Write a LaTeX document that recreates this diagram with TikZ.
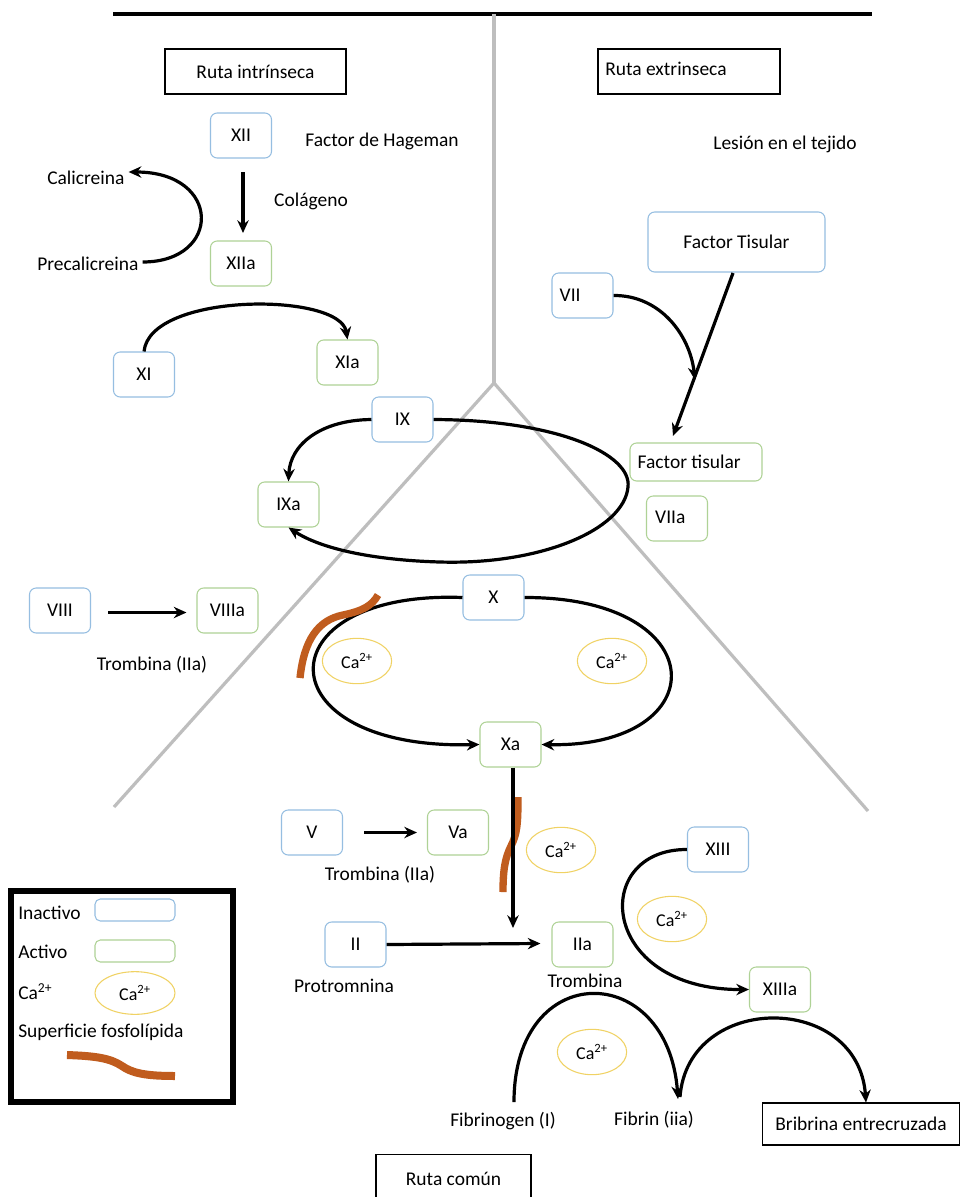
\documentclass[tikz,border=0pt]{standalone}
\usepackage{fontspec}
\setmainfont{Carlito}
\usetikzlibrary{arrows.meta,shapes.geometric,calc}
\definecolor{inblue}{RGB}{150,190,225}
\definecolor{acgreen}{RGB}{175,210,150}
\definecolor{cayellow}{RGB}{240,210,100}
\definecolor{brownc}{RGB}{192,92,30}
\definecolor{divgray}{RGB}{190,190,190}
\begin{document}
\begin{tikzpicture}[x=0.75pt,y=-0.75pt,
  every node/.style={font=\fontsize{14.6pt}{17pt}\selectfont},
  box/.style={draw, rounded corners=5pt, minimum width=45.75pt, minimum height=33.75pt, line width=0.8pt, inner sep=2pt},
  inact/.style={box, draw=inblue},
  act/.style={box, draw=acgreen},
  caell/.style={ellipse, draw=cayellow, line width=0.8pt, minimum width=52pt, minimum height=34pt, inner sep=0pt, font=\fontsize{13.5pt}{15pt}\selectfont},
  arr/.style={line width=2.4pt, -{Stealth[length=9.5pt,width=8.5pt]}},
  phos/.style={draw=brownc, line width=5.5pt},
  titlebox/.style={draw, line width=0.8pt, minimum height=33.75pt, inner sep=4pt},
  txt/.style={inner sep=0pt},
  divline/.style={draw=divgray, line width=2.4pt}
]
\clip (0,0) rectangle (960,1197);
\fill[white] (0,0) rectangle (960,1197);

% dividers
\draw[line width=3pt] (113,14) -- (872,14);
\coordinate (apex) at (494,383);
\coordinate (top) at (494,14);
\coordinate (lend) at (114,807);
\coordinate (rend) at (868,811);
\draw[divline] (top) -- (apex);
\draw[divline] (lend) -- (apex) -- (rend);

% title boxes
\node[titlebox, minimum width=135.75pt] (ri) at (255.5,71.5) {Ruta intrínseca};
\node[titlebox, minimum width=136.5pt] (re) at (689,71.5) {};
\node[txt, anchor=west] (ret) at (605,69) {Ruta extrinseca};

% intrinsic
\node[inact] (XII) at (241,135.5) {XII};
\node[txt] (hag) at (382,141) {Factor de Hageman};
\node[act] (XIIa) at (241,263.5) {XIIa};
\node[txt] (col) at (311,201) {Colágeno};
\node[txt, anchor=west] (cal) at (47,178) {Calicreina};
\node[txt, anchor=west] (pre) at (37,264) {Precalicreina};
\coordinate (xiiarrA) at (243,172);
\coordinate (xiiarrB) at (243,233);
\draw[arr] (xiiarrA) -- (xiiarrB);
\draw[arr] ($(pre.east)+(4,-2)$) .. controls (222,262) and (222,172) .. ($(cal.east)+(4,-6)$);

\node[inact] (XI) at (144,374.5) {XI};
\node[act] (XIa) at (347.5,362.5) {XIa};
\draw[arr] (XI.north) .. controls (150,292) and (340,292) .. (XIa.north);

\node[inact] (IX) at (402.5,419.5) {IX};
\node[act] (IXa) at (288.5,504.5) {IXa};
\draw[arr] (IX.west) .. controls (320,420) and (290,445) .. (IXa.north);
\draw[arr] (IX.east) .. controls (560,420) and (632,455) .. (628,487)
  .. controls (624,530) and (540,565) .. (440,562)
  .. controls (370,560) and (320,548) .. (IXa.south);

\node[inact] (VIII) at (60,610.5) {VIII};
\node[act] (VIIIa) at (227.5,610.5) {VIIIa};
\draw[arr] ($(VIII.east)+(17,2)$) -- ($(VIIIa.west)+(-10,2)$);
\node[txt] (tr1) at (152,665) {Trombina (IIa)};

% extrinsic
\node[txt] (les) at (785,144) {Lesión en el tejido};
\node[box, draw=inblue, minimum width=132.75pt, minimum height=45pt] (FT) at (736.5,242) {Factor Tisular};
\node[inact] (VII) at (582.5,295.5) {};
\node[txt, anchor=west] (VIIt) at ($(VII.west)+(8,0)$) {VII};
\node[act, minimum width=99pt, minimum height=28.5pt] (FTa) at (696,462) {};
\node[txt, anchor=west] (FTat) at ($(FTa.west)+(8,0)$) {Factor tisular};
\node[act] (VIIa) at (677,518.5) {};
\node[txt, anchor=west] (VIIat) at ($(VIIa.west)+(9,-1)$) {VIIa};
\coordinate (ftA) at (733,273);
\coordinate (ftB) at (673,436);
\draw[arr] (ftA) -- (ftB);
\coordinate (viiB) at (695,380);
\draw[arr] (VII.east) .. controls (660,295) and (690,335) .. (viiB);

% common: X loop
\node[inact] (X) at (493.5,597.5) {X};
\node[act] (Xa) at (510.5,744.5) {Xa};
\node[caell] (ca1) at (357,661) {Ca\textsuperscript{2+}};
\node[caell] (ca2) at (612,661) {Ca\textsuperscript{2+}};
\draw[arr] (X.west) .. controls (262,590) and (262,750) .. (Xa.west);
\draw[arr] (X.east) .. controls (716,597) and (716,748) .. (Xa.east);
\draw[phos] (300,678) .. controls (304,640) and (318,620) .. (343,615) .. controls (362,611) and (372,606) .. (378,595);

% V
\node[inact] (V) at (312,832.5) {V};
\node[act] (Va) at (458,832.5) {Va};
\draw[arr] ($(V.east)+(21,0)$) -- ($(Va.west)+(-10,0)$);
\node[txt] (tr2) at (380,875) {Trombina (IIa)};

% Xa -> IIa
\node[act] (IIa) at (582.5,944.5) {IIa};
\node[inact] (II) at (355.5,944.5) {II};
\node[txt] (pro) at (344,986) {Protromnina};
\node[txt] (tr3) at (585,981) {Trombina};
\coordinate (xaB) at (513,928);
\draw[phos] (503,892) .. controls (503,870) and (505,858) .. (511,846) .. controls (517,834) and (518,825) .. (518,797);
\draw[arr] ($(Xa.south)+(2.5,0)$) -- (xaB);
\node[caell] (ca3) at (561,850) {Ca\textsuperscript{2+}};
\draw[arr] (II.east) -- ($(IIa.west)+(-11,-1)$);

% XIII
\node[inact] (XIII) at (718,849.5) {XIII};
\node[act] (XIIIa) at (780,989.5) {XIIIa};
\node[caell] (ca4) at (672,919) {Ca\textsuperscript{2+}};
\draw[arr] (XIII.west) .. controls (590,849) and (598,990) .. (XIIIa.west);

% fibrin
\node[txt] (fgen) at (503,1121) {Fibrinogen (I)};
\node[txt] (fib) at (654,1120) {Fibrin (iia)};
\node[titlebox, minimum width=148pt, minimum height=31.5pt] (bri) at (861,1124) {Bribrina entrecruzada};
\node[caell] (ca5) at (592,1052) {Ca\textsuperscript{2+}};
\coordinate (fgA) at (514,1102);
\coordinate (fbB) at (678,1099);
\coordinate (fbA) at (680,1097);
\draw[arr] (fgA) .. controls (514,958) and (668,960) .. (fbB);
\draw[arr] (fbA) .. controls (688,992) and (858,992) .. ($(bri.north)+(5,0)$);

\node[titlebox, minimum width=116.25pt, minimum height=37.5pt, anchor=north] (rc) at (453.5,1154) {};
\node[txt] (rct) at (453.5,1179) {Ruta común};

% legend
\draw[line width=3.8pt] (11,891) rectangle (233,1102);
\node[txt, anchor=west] (lin) at (18,913) {Inactivo};
\node[draw=inblue, rounded corners=4pt, line width=0.8pt, minimum width=60pt, minimum height=16.5pt, inner sep=0pt] (lbin) at (135,910) {};
\node[txt, anchor=west] (lac) at (18,952) {Activo};
\node[draw=acgreen, rounded corners=4pt, line width=0.8pt, minimum width=60pt, minimum height=16.5pt, inner sep=0pt] (lbac) at (135,951) {};
\node[txt, anchor=west] (lca) at (18,992) {Ca\textsuperscript{2+}};
\node[caell, minimum width=60pt, minimum height=32pt] (lcae) at (135,993) {Ca\textsuperscript{2+}};
\node[txt, anchor=west] (lsf) at (18,1032) {Superficie fosfolípida};
\draw[phos, line width=6pt] (67,1055) .. controls (95,1056) and (110,1058) .. (122,1066) .. controls (132,1073) and (145,1076) .. (175,1076);
\end{tikzpicture}
\end{document}
